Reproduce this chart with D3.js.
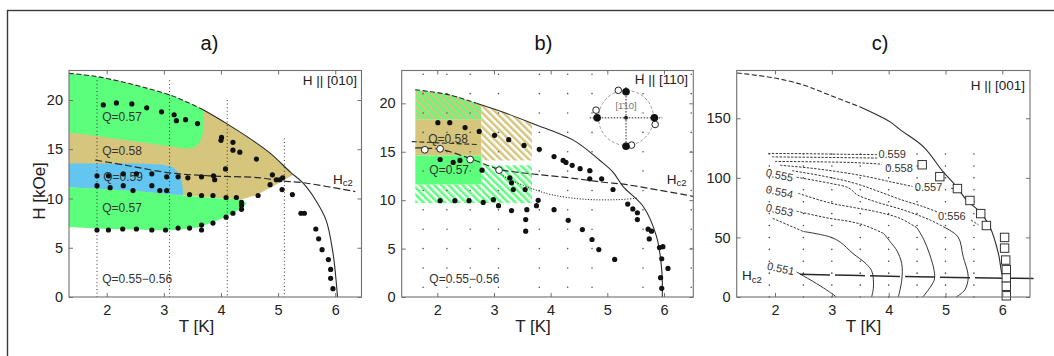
<!DOCTYPE html>
<html>
<head>
<meta charset="utf-8">
<script src="https://cdn.jsdelivr.net/npm/d3@7"></script>
<style>
  body { margin: 0; background: #fff; }
  svg { display: block; }
</style>
</head>
<body>
<svg id="fig" width="1054" height="356"></svg>
<script>
// ---------- shared ticks
const tTicks = [2, 3, 4, 5, 6];
const hTicksAB = [0, 5, 10, 15, 20];
const hTicksC = [0, 50, 100, 150];

// ---------- a) H || [010]   (T [K], H [kOe])
const aUpper = [[1.34,22.7],[1.8,22.4],[2.3,21.8],[2.7,21.2],[3.11,20.5],[3.4,19.8],[3.69,19.0],[4.1,17.6],[4.45,16.3],
  [4.86,14.6],[5.21,12.7],[5.43,11.6],[5.65,9.9],[5.84,7.8],[5.96,4.5],[6.01,2.0],[6.04,0]];
const aHc2 = [[1.8,13.9],[2.4,13.3],[3.1,12.6],[3.8,12.3],[4.68,12.1],[5.03,11.8],[5.44,11.6],[6.35,10.7]];
const aYellowLower = [[5.27,12.4],[4.9,11.2],[4.6,10.3],[4.35,9.9],[3.34,10.3],[1.34,11.15]];
const aGreenTopEdge = [[3.7,17.2],[3.66,16.0],[3.56,15.25],[3.4,15.05],[3.1,15.3],[2.35,15.9],[1.77,16.4],[1.34,16.7]];
const aBlue = [[1.34,13.55],[2.5,13.55],[2.95,13.45],[3.15,13.2],[3.28,12.5],[3.33,11.2],[3.34,10.3],[2.5,10.75],[1.34,11.15]];
const aGreenLow = [[1.34,11.15],[2.5,10.75],[3.34,10.3],[3.9,10.05],[4.35,9.9],[4.45,9.5],[4.3,8.8],[4.2,8.45],
  [3.9,7.7],[3.63,7.1],[3.3,6.85],[3.05,6.76],[2.5,6.85],[2.0,6.9],[1.34,7.1]];
const aScanT = [1.83, 3.1, 4.11, 5.11];
const aScanTop = [22.0, 22.0, 20.0, 16.1];
const aDots = [
  [1.94,19.5],[2.17,19.7],[2.44,19.6],[2.70,19.2],[2.96,18.8],[3.18,18.5],[3.22,17.9],[3.38,18.0],[3.59,17.6],
  [4.01,16.2],[4.0,15.9],[4.21,15.7],[4.21,14.9],[4.33,14.7],[4.62,14.0],[4.08,13.0],
  [4.9,12.4],[4.97,11.9],[5.03,11.9],[5.08,12.1],[4.86,11.4],[5.07,10.9],[5.25,10.4],[4.65,10.3],
  [1.83,12.3],[2.03,12.3],[2.29,12.5],[2.52,12.5],[2.79,12.5],[3.05,12.2],[3.25,12.2],[3.42,12.1],[3.66,12.2],[3.87,12.3],[3.89,11.9],
  [1.83,11.3],[2.06,11.1],[2.29,11.3],[2.46,10.8],[2.79,11.3],[2.93,10.8],[3.05,10.8],
  [3.45,10.4],[3.66,10.3],[3.86,10.3],[4.09,10.1],[4.27,10.1],[4.36,9.6],[4.36,9.3],[4.36,8.9],[4.21,8.5],[4.09,8.1],
  [3.86,7.5],[3.66,7.3],[3.66,6.8],[3.45,7.0],[3.25,7.0],[3.03,6.8],[2.79,6.8],[2.52,6.9],[2.28,6.9],[2.03,6.8],[1.83,6.8],
  [5.40,8.5],[5.46,8.5],[5.66,6.9],[5.71,5.9],[5.77,4.8],[5.88,3.8],[5.92,2.8],[5.92,1.9],[5.96,0.85]];
const aLabels = [["Q=0.57",1.92,18.2],["Q=0.58",1.92,14.75],["Q=0.59",1.94,12.05],["Q=0.57",1.92,8.9],["Q=0.55\u22120.56",1.92,1.73]];

// ---------- b) H || [110]
const bUpper = [[1.61,21.4],[2.2,20.9],[2.69,20.0],[3.2,19.0],[3.69,17.9],[4.4,16.2],[4.87,14.1],[5.1,12.9],[5.28,11.4],
  [5.64,9.3],[5.87,6.2],[5.96,2.8],[5.97,0]];
const bHc2 = [[1.61,15.4],[2.05,15.25],[2.58,14.3],[3.09,13.2],[3.69,12.7],[4.34,12.3],[4.93,11.85],[5.34,11.6],[6.51,10.4]];
const bUpperDash = [[1.55,16.05],[2.1,15.9],[2.7,15.75]];
const bDotted = [[3.0,13.3],[3.22,12.3],[3.58,11.4],[3.99,10.6],[4.58,10.1],[5.17,10.05],[5.52,10.2]];
// blocks: [T0, T1, H0, H1, kind]
const bBlocks = [[1.61,2.78,18.3,24,"gy"],[1.61,2.78,14.6,18.3,"y"],[1.61,2.78,11.6,14.6,"g"],[1.61,2.78,9.7,11.6,"gw"],
  [2.78,3.67,14.1,24,"yw"],[2.78,3.67,9.7,13.6,"gw"]];
const bGridT = [1.75, 2.17, 2.58, 3.08, 3.8, 4.3, 4.73, 5.63, 6.48];
const bGridH = [1, 3, 5, 7, 9, 11, 13, 15, 17, 19, 21, 23];
const bDots = [
  [2.01,18.0],[2.22,18.0],[2.49,17.5],[2.74,17.1],[3.01,16.7],[3.26,16.25],[3.53,15.65],[3.8,15.25],[4.06,14.5],[4.22,14.1],
  [4.27,13.9],[4.38,13.6],[4.52,13.25],[4.69,13.05],
  [2.05,14.2],[2.28,13.9],[2.4,14.1],[2.79,13.1],[3.28,12.3],[3.31,11.8],[3.34,11.1],[3.55,11.1],
  [4.69,12.2],[4.9,12.2],[5.1,11.1],
  [2.05,9.95],[2.31,9.95],[2.56,9.95],[2.81,9.77],[2.99,10.05],[3.08,9.43],[3.31,8.92],[3.58,9.02],[3.56,8.0],[3.56,6.8],
  [3.75,9.43],[3.78,9.98],[4.06,9.02],[4.31,7.92],[4.56,6.96],[4.73,5.94],[4.85,4.9],[5.13,3.88],
  [5.36,9.6],[5.45,9.1],[5.53,8.7],[5.53,8.0],[5.72,7.0],[5.78,6.8],[5.74,6.0],[5.92,5.1],[5.98,5.2],[5.96,3.95],
  [6.07,2.95],[5.94,2.0],[5.96,0.9]];
const bOpen = [[1.78,15.2],[2.05,15.3],[2.58,14.2],[3.09,13.1]];
const bLabels = [["Q=0.58",1.84,16.2],["Q=0.57",1.86,13.0],["Q=0.55\u22120.56",1.86,1.82]];
// inset (units of the inset radius, centred at bInsetAt)
const bInsetAt = [5.33, 18.5];
const insetFilled = [[-1.05,0],[1.03,0],[0,0.95],[0,-1.03]];
const insetOpen = [[-0.28,1.0],[-1.09,0.28],[1.06,-0.24],[0.2,-0.99]];

// ---------- c) H || [001]   (H in Oe scale 0..190)
const cUpper = [[1.33,188],[1.97,184],[2.5,178],[2.85,171.5],[3.5,159.5],[4.02,147.2],[4.2,140.5],[4.61,126.2],[4.96,105],
  [5.17,94],[5.37,81.4],[5.6,71.6],[5.78,59],[5.93,36.7],[5.99,20],[6.03,14]];
const cHc2 = [[2.44,19],[3.5,18],[4.5,17],[5.5,16.2],[6.55,15.5]];
const c559 = [[1.88,120.5],[2.5,120.3],[3.2,119.8],[3.8,119.5]];
const c5585 = [[1.95,117.6],[2.8,117.2],[3.8,116.6]];
const c558 = [[2.0,113.8],[2.8,113.4],[3.4,112.8],[3.88,111.5]];
const c557 = [[2.09,110.6],[2.6,108.3],[3.1,105.2],[3.6,101.2],[4.05,96.5],[4.42,92.8]];
const c557b = [[5.1,91.3],[5.2,90.2]];
const c556 = [[2.3,106],[2.9,101],[3.4,95.5],[3.8,89],[4.2,82],[4.61,75.8],[4.85,71.5]];
const c556b = [[5.45,64.6],[5.58,60.5]];
const c555 = [[2.38,100.5],[2.96,95.5],[3.3,91.5],[3.44,86],[3.73,80.5],[4.26,73],[4.73,64.6],[4.96,59],[5.22,50.5],
  [5.31,34],[5.4,17],[5.34,6],[5.19,0]];
const c554 = [[2.41,87],[2.96,79],[3.4,75],[3.79,71.5],[4.2,66],[4.5,58],[4.62,48],[4.72,36],[4.8,22],[4.8,14],[4.6,0]];
const c553 = [[2.38,72],[2.96,66],[3.3,63.5],[3.56,60.4],[3.91,53.4],[4.05,45],[4.14,39.3],[4.23,28],[4.23,14],[4.17,0]];
const c552 = [[1.96,66],[2.5,55],[2.96,50.5],[3.15,46],[3.37,36.6],[3.6,28],[3.7,22],[3.73,15],[3.73,7],[3.7,0]];
const c551 = [[2.38,21],[2.73,11.3],[2.96,4.2],[3.08,0]];
const cSquares = [[4.59,111],[4.9,101],[5.21,91],[5.43,81],[5.62,70],[5.72,60],[6.04,50],[6.04,41],[6.06,31],[6.07,23],[6.07,16],[6.07,9],[6.07,1]];
const cGridT = [1.9, 2.5, 3.0, 3.5, 4.0, 4.5, 5.0, 5.5];
const cGridH = [0, 10, 20, 30, 40, 50, 60, 70, 80, 90, 100, 110, 120];
// [text, T, H, side]  side "l" = slanted label at the left end of a contour
const cLabels = [["0.559",3.82,119.2,"r"],["0.558",3.94,107.6,"r"],["0.557",4.46,91.3,"r"],["0.556",4.87,67.4,"r"],
  ["0.555",1.84,103.9,"l"],["0.554",1.84,89.8,"l"],["0.553",1.84,74.5,"l"],["0.551",1.86,25.4,"l"]];

// ======================================================================
const svg = d3.select('#fig');
const defs = svg.append('defs');
const FONT = '"Liberation Sans", Arial, Helvetica, sans-serif';
const GREEN = '#5cff7c', YELLOW = '#d6c57c', BLUE = '#63c6f0', INK = '#222', AX = '#707070';

// outer frame (cut by the page edge)
svg.append('rect').attr('x', 7.5).attr('y', 10.5).attr('width', 1100).attr('height', 400)
  .attr('fill', 'none').attr('stroke', '#3a3a3a').attr('stroke-width', 1.4);

const xa = d3.scaleLinear([1.34, 6.46], [69, 361.5]);
const ya = d3.scaleLinear([0, 22.99], [297, 70.5]);
const xb = d3.scaleLinear([1.372, 6.517], [401.7, 693.3]);
const yb = d3.scaleLinear([0, 23.39], [297, 70.5]);
const xc = d3.scaleLinear([1.326, 6.487], [736.7, 1030]);
const yc = d3.scaleLinear([0, 190.1], [297, 70.5]);

const lineFor = (x, y, curve = d3.curveLinear) => d3.line().x(d => x(d[0])).y(d => y(d[1])).curve(curve);

function stripes(id, bg, fg) {
  const p = defs.append('pattern').attr('id', id).attr('patternUnits', 'userSpaceOnUse')
    .attr('width', 5).attr('height', 5).attr('patternTransform', 'rotate(-45)');
  p.append('rect').attr('width', 5).attr('height', 5).attr('fill', bg);
  p.append('rect').attr('width', 2.5).attr('height', 5).attr('fill', fg);
}
stripes('gw', '#fff', GREEN);
stripes('yw', '#fff', YELLOW);
stripes('gy', YELLOW, GREEN);
const kindFill = { g: GREEN, y: YELLOW, gw: 'url(#gw)', yw: 'url(#yw)', gy: 'url(#gy)' };

function path(g, pts, x, y, opt = {}) {
  const d = lineFor(x, y, opt.curve)(pts) + (opt.fill ? 'Z' : '');
  return g.append('path').attr('d', d)
    .attr('fill', opt.fill || 'none').attr('stroke', opt.stroke || (opt.fill ? 'none' : '#2a2a2a'))
    .attr('stroke-width', opt.width || 1).attr('stroke-dasharray', opt.dash || null);
}

function text(g, str, px, py, size, anchor = 'start', color = INK) {
  return g.append('text').attr('x', px).attr('y', py).attr('font-family', FONT).attr('font-size', size)
    .attr('text-anchor', anchor).attr('dominant-baseline', 'middle').attr('fill', color).text(str);
}

function hc2(g, px, py) {
  const t = g.append('text').attr('x', px).attr('y', py).attr('font-family', FONT).attr('font-size', 13.5)
    .attr('dominant-baseline', 'middle').attr('fill', INK);
  t.append('tspan').text('H');
  t.append('tspan').attr('font-size', 9.5).attr('dy', 3.5).text('c2');
}

function axes(g, x, y, hTicks) {
  const [x0, x1] = x.range(), [y0, y1] = y.range();
  const ag = g.append('g');
  const inward = ax => ax.tickSizeInner(-4).tickSizeOuter(0);
  const fmt = d3.format('d');
  ag.append('g').attr('transform', `translate(0,${y0})`)
    .call(inward(d3.axisBottom(x).tickValues(tTicks)).tickFormat(fmt).tickPadding(8));
  ag.append('g').attr('transform', `translate(0,${y1})`).call(inward(d3.axisTop(x).tickValues(tTicks)).tickFormat(''));
  ag.append('g').attr('transform', `translate(${x0},0)`)
    .call(inward(d3.axisLeft(y).tickValues(hTicks)).tickFormat(fmt).tickPadding(6));
  ag.append('g').attr('transform', `translate(${x1},0)`).call(inward(d3.axisRight(y).tickValues(hTicks)).tickFormat(''));
  ag.selectAll('.domain').remove();
  ag.selectAll('.tick line').attr('stroke', AX);
  ag.selectAll('.tick text').attr('font-family', FONT).attr('font-size', 14.5).attr('fill', INK);
  ag.append('rect').attr('x', x0).attr('y', y1).attr('width', x1 - x0).attr('height', y0 - y1)
    .attr('fill', 'none').attr('stroke', AX).attr('stroke-width', 1.1);
}

function dots(g, pts, x, y, r = 2.6) {
  g.append('g').selectAll('circle').data(pts).join('circle')
    .attr('cx', d => x(d[0])).attr('cy', d => y(d[1])).attr('r', r).attr('fill', '#111');
}

// split a boundary into a dashed head and a solid tail
function upperCurve(g, pts, x, y, splitT) {
  const head = pts.filter(d => d[0] <= splitT), tail = pts.filter(d => d[0] >= head[head.length - 1][0]);
  path(g, head, x, y, { curve: d3.curveCatmullRom, dash: '5,2.5', width: 1.1 });
  path(g, tail, x, y, { curve: d3.curveCatmullRom, width: 1.1 });
}

// contour: dashed while H is high, solid once it turns down towards H = 0
function contour(g, pts, x, y, solidBelow) {
  const k = pts.findIndex(d => d[1] < solidBelow);
  const head = k < 0 ? pts : pts.slice(0, Math.max(k, 1));
  const tail = k < 0 ? [] : pts.slice(Math.max(k - 1, 0));
  if (head.length > 1) path(g, head, x, y, { dash: '2.4,1.4', width: 0.95, curve: d3.curveCatmullRom });
  if (tail.length > 1) path(g, tail, x, y, { width: 0.95, curve: d3.curveCatmullRom });
}

// ---------------- panel titles / axis titles
[['a)', 209.5], ['b)', 543.5], ['c)', 880]].forEach(([s, px]) =>
  svg.append('text').attr('x', px).attr('y', 50).attr('text-anchor', 'middle').attr('font-family', FONT)
    .attr('font-size', 20).attr('fill', '#111').text(s));
[196.5, 533, 863.5].forEach(px =>
  svg.append('text').attr('x', px).attr('y', 332).attr('text-anchor', 'middle').attr('font-family', FONT)
    .attr('font-size', 17).attr('fill', INK).text('T [K]'));
svg.append('text').attr('transform', 'translate(45,191) rotate(-90)').attr('text-anchor', 'middle')
  .attr('font-family', FONT).attr('font-size', 17).attr('fill', INK).text('H [kOe]');

// ================= panel a
{
  const g = svg.append('g');
  path(g, aUpper.filter(d => d[0] <= 5.21).concat(aYellowLower), xa, ya, { fill: YELLOW });
  path(g, aUpper.filter(d => d[0] <= 3.69).concat(aGreenTopEdge), xa, ya, { fill: GREEN });
  path(g, aBlue, xa, ya, { fill: BLUE });
  path(g, aGreenLow, xa, ya, { fill: GREEN });

  aScanT.forEach((t, i) => path(g, [[t, aScanTop[i]], [t, 0]], xa, ya, { dash: '1,2.6', stroke: '#333' }));
  upperCurve(g, aUpper, xa, ya, 3.69);
  path(g, aHc2, xa, ya, { dash: '7,3', width: 1.2, curve: d3.curveCatmullRom });
  aLabels.forEach(([s, t, h]) => text(g, s, xa(t), ya(h), 12, 'start', '#333'));
  dots(g, aDots, xa, ya);
  hc2(g, xa(5.96), ya(11.9));
  text(g, 'H || [010]', 357, 81.5, 13.5, 'end');
  axes(g, xa, ya, hTicksAB);
}

// ================= panel b
{
  const g = svg.append('g');
  const area = d3.area().x(d => xb(d[0])).y0(yb(0)).y1(d => yb(d[1])).curve(d3.curveCatmullRom);
  defs.append('clipPath').attr('id', 'clipB').append('path').attr('d', area(bUpper));
  g.append('g').attr('clip-path', 'url(#clipB)').selectAll('rect').data(bBlocks).join('rect')
    .attr('x', d => xb(d[0])).attr('width', d => xb(d[1]) - xb(d[0]))
    .attr('y', d => yb(d[3])).attr('height', d => yb(d[2]) - yb(d[3]))
    .attr('fill', d => kindFill[d[4]]);

  const grid = bGridT.flatMap(t => bGridH.map(h => [t, h]));
  g.append('g').selectAll('circle').data(grid).join('circle')
    .attr('cx', d => xb(d[0])).attr('cy', d => yb(d[1])).attr('r', 0.8).attr('fill', '#555');

  upperCurve(g, bUpper, xb, yb, 2.69);
  path(g, bUpperDash, xb, yb, { dash: '5,2.5', width: 1.1 });
  path(g, bHc2, xb, yb, { dash: '7,3', width: 1.2, curve: d3.curveCatmullRom });
  path(g, bDotted, xb, yb, { dash: '1.2,1.6', width: 1, curve: d3.curveCatmullRom });
  bLabels.forEach(([s, t, h]) => text(g, s, xb(t), yb(h), 12, 'start', '#333'));
  dots(g, bDots, xb, yb);
  g.append('g').selectAll('circle').data(bOpen).join('circle')
    .attr('cx', d => xb(d[0])).attr('cy', d => yb(d[1])).attr('r', 3.4)
    .attr('fill', '#fff').attr('stroke', '#222').attr('stroke-width', 1);

  // reciprocal-space inset
  const R = 27.5, cx = xb(bInsetAt[0]), cy = yb(bInsetAt[1]);
  const ins = g.append('g').attr('transform', `translate(${cx},${cy})`);
  ins.append('circle').attr('r', R).attr('fill', 'none').attr('stroke', '#9a9a9a').attr('stroke-dasharray', '3,2');
  ins.append('line').attr('x1', -1.32 * R).attr('x2', 1.32 * R).attr('stroke', '#222').attr('stroke-dasharray', '1.5,1.5');
  ins.append('line').attr('y1', -1.12 * R).attr('y2', 1.12 * R).attr('stroke', '#222').attr('stroke-dasharray', '1.5,1.5');
  ins.append('circle').attr('r', 2).attr('fill', '#222');
  ins.selectAll('.op').data(insetOpen).join('circle').attr('class', 'op')
    .attr('cx', d => d[0] * R).attr('cy', d => -d[1] * R).attr('r', 3.3)
    .attr('fill', '#fff').attr('stroke', '#222');
  ins.selectAll('.fi').data(insetFilled).join('circle').attr('class', 'fi')
    .attr('cx', d => d[0] * R).attr('cy', d => -d[1] * R).attr('r', 3.8).attr('fill', '#111');
  text(ins, '[1\u030410]', 0, -0.42 * R, 9.5, 'middle', '#777');

  hc2(g, xb(6.05), yb(12.1));
  text(g, 'H || [110]', 688, 80, 13.5, 'end');
  axes(g, xb, yb, hTicksAB);
}

// ================= panel c
{
  const g = svg.append('g');
  const grid = cGridT.flatMap(t => cGridH.map(h => [t, h]));
  g.append('g').selectAll('circle').data(grid).join('circle')
    .attr('cx', d => xc(d[0])).attr('cy', d => yc(d[1])).attr('r', 0.8).attr('fill', '#444');

  upperCurve(g, cUpper, xc, yc, 3.9);
  [c559, c5585, c558, c557, c557b, c556, c556b].forEach(p => contour(g, p, xc, yc, 0));
  [c555, c554, c553, c552].forEach(p => contour(g, p, xc, yc, 52));
  contour(g, c551, xc, yc, 1000);
  path(g, cHc2, xc, yc, { dash: '30,5', width: 1.5 });

  cLabels.forEach(([s, t, h, side]) => {
    const el = text(g, s, xc(t), yc(h), 11, 'start', '#333');
    if (side === 'l') el.attr('transform', `rotate(12,${xc(t)},${yc(h)})`);
  });
  g.append('g').selectAll('rect').data(cSquares).join('rect')
    .attr('x', d => xc(d[0]) - 4.2).attr('y', d => yc(d[1]) - 4.2).attr('width', 8.4).attr('height', 8.4)
    .attr('fill', '#fff').attr('stroke', '#333').attr('stroke-width', 1);
  hc2(g, xc(1.42), yc(17.6));
  text(g, 'H || [001]', 1025, 86, 13.5, 'end');
  axes(g, xc, yc, hTicksC);
}
</script>
</body>
</html>
